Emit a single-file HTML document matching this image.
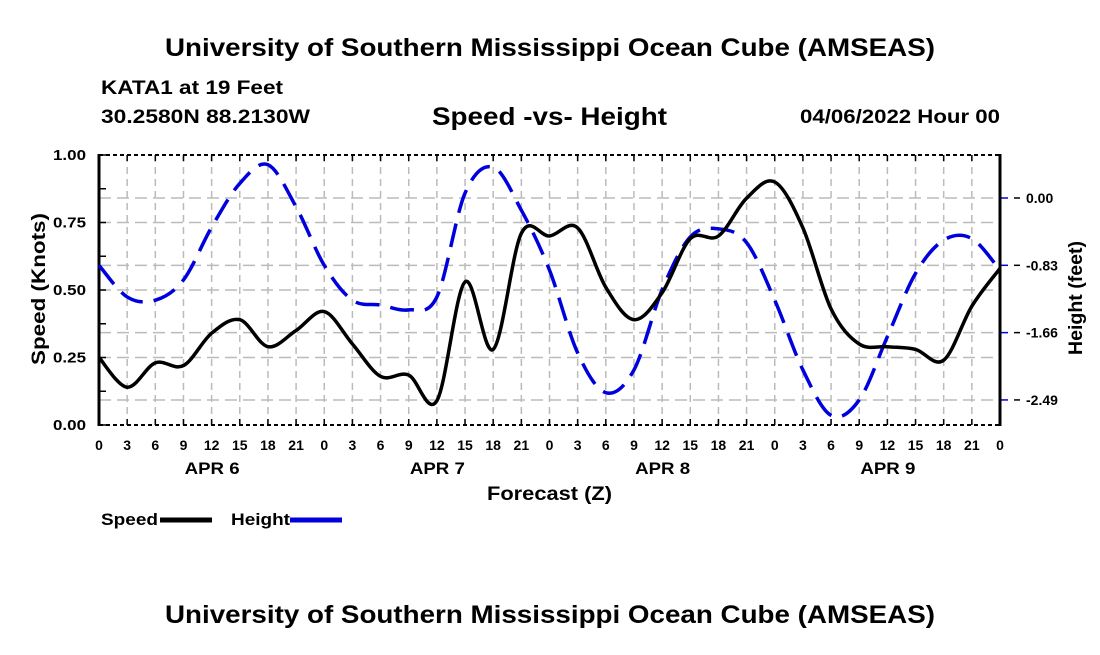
<!DOCTYPE html>
<html><head><meta charset="utf-8"><style>
body{margin:0;background:#fff;}
svg text{font-family:"Liberation Sans",sans-serif;font-weight:bold;fill:#000;}
</style></head><body>
<svg width="1100" height="650" viewBox="0 0 1100 650">
<text x="165" y="56" font-size="25" textLength="770" lengthAdjust="spacingAndGlyphs">University of Southern Mississippi Ocean Cube (AMSEAS)</text>
<text x="101" y="94" font-size="19" textLength="182" lengthAdjust="spacingAndGlyphs">KATA1 at 19 Feet</text>
<text x="101" y="123" font-size="19" textLength="209" lengthAdjust="spacingAndGlyphs">30.2580N  88.2130W</text>
<text x="432" y="125" font-size="25" textLength="235" lengthAdjust="spacingAndGlyphs">Speed -vs- Height</text>
<text x="800" y="123" font-size="19" textLength="200" lengthAdjust="spacingAndGlyphs">04/06/2022 Hour 00</text>
<g id="grid"></g>
<g id="axes"></g>
<g id="series"></g>
<text x="487" y="500" font-size="19" textLength="125" lengthAdjust="spacingAndGlyphs">Forecast (Z)</text>
<text transform="translate(45,365) rotate(-90)" font-size="19" textLength="152" lengthAdjust="spacingAndGlyphs">Speed (Knots)</text>
<text transform="translate(1082,355) rotate(-90)" font-size="19" textLength="114" lengthAdjust="spacingAndGlyphs">Height (feet)</text>
<g><text x="101" y="525" font-size="17" textLength="57" lengthAdjust="spacingAndGlyphs">Speed</text><line x1="160" y1="520" x2="212" y2="520" stroke="#000" stroke-width="5"/></g>
<g><text x="231" y="525" font-size="17" textLength="59" lengthAdjust="spacingAndGlyphs">Height</text><line x1="290" y1="520" x2="342" y2="520" stroke="#0000dd" stroke-width="5"/></g>
<text x="165" y="623" font-size="25" textLength="770" lengthAdjust="spacingAndGlyphs">University of Southern Mississippi Ocean Cube (AMSEAS)</text>
</svg>
<script>
const hours=[0,3,6,9,12,15,18,21,24,27,30,33,36,39,42,45,48,51,54,57,60,63,66,69,72,75,78,81,84,87,90,93,96];
const speed=[0.25,0.14,0.23,0.22,0.34,0.39,0.29,0.35,0.42,0.30,0.18,0.185,0.09,0.53,0.28,0.71,0.70,0.73,0.51,0.39,0.49,0.69,0.70,0.84,0.90,0.73,0.43,0.30,0.29,0.28,0.24,0.44,0.58];
const height=[-0.83,-1.22,-1.26,-1.01,-0.36,0.18,0.41,-0.11,-0.83,-1.26,-1.32,-1.38,-1.22,0.06,0.38,-0.15,-0.89,-1.91,-2.40,-2.12,-1.13,-0.48,-0.38,-0.55,-1.26,-2.12,-2.68,-2.49,-1.71,-0.93,-0.52,-0.50,-0.89];
const speedTicks=[0,0.25,0.5,0.75,1.0];
const heightTicks=[0,-0.83,-1.66,-2.49];
const hourLabels=["0","3","6","9","12","15","18","21"];
const dayLabels=["APR 6","APR 7","APR 8","APR 9"];

const NS="http://www.w3.org/2000/svg";
const X0=99,X1=1000,Y0=425,Y1=155;
const xs=h=>X0+(X1-X0)*h/96;
const ys=v=>Y0-(Y0-Y1)*v;
const yh=v=>198-81.1*v;
function mk(tag,attrs,parent){const e=document.createElementNS(NS,tag);for(const k in attrs)e.setAttribute(k,attrs[k]);parent.appendChild(e);return e;}
const grid=document.getElementById('grid'),axes=document.getElementById('axes'),series=document.getElementById('series');
for(let i=0;i<=32;i++){
  const x=xs(i*3);
  if(i>0&&i<32){const l=mk('line',{x1:x,y1:Y1,x2:x,y2:Y0,stroke:'#bbb','stroke-width':1.5,'stroke-dasharray':'7,5'},grid);
  
  }
  mk('line',{x1:x,y1:Y0,x2:x,y2:Y0-6,stroke:'#000','stroke-width':1.5},axes);
  mk('line',{x1:x,y1:Y1,x2:x,y2:Y1+6,stroke:'#000','stroke-width':1.5},axes);
  const t=mk('text',{x:x,y:450,'font-size':14,'text-anchor':'middle'},axes);
  t.textContent=hourLabels[i%8];
  
  
}
dayLabels.forEach((d,i)=>{const t=mk('text',{x:xs(i*24+12)-27,y:474,'font-size':17,textLength:55,lengthAdjust:'spacingAndGlyphs'},axes);t.textContent=d;

});
speedTicks.forEach(v=>{const y=ys(v);
  if(v>0&&v<1){const l=mk('line',{x1:X0,y1:y,x2:X1,y2:y,stroke:'#bbb','stroke-width':1.5,'stroke-dasharray':'12,6'},grid);
  
  }
  const t=mk('text',{x:53,y:y+5,'font-size':15,textLength:33,lengthAdjust:'spacingAndGlyphs'},axes);t.textContent=v.toFixed(2);
  
  });
for(let v=0.125;v<1;v+=0.25)mk('line',{x1:X0,y1:ys(v),x2:X0+7,y2:ys(v),stroke:'#000','stroke-width':1.5},axes);
speedTicks.forEach(v=>mk('line',{x1:X0,y1:ys(v),x2:X0+7,y2:ys(v),stroke:'#000','stroke-width':1.5},axes));
heightTicks.forEach(v=>{const y=yh(v);
  const l=mk('line',{x1:X0,y1:y,x2:X1,y2:y,stroke:'#bbb','stroke-width':1.5,'stroke-dasharray':'12,6'},grid);
  
  
  mk('line',{x1:X1,y1:y,x2:X1+8,y2:y,stroke:'#0000dd','stroke-width':1.5},axes);
  mk('line',{x1:X1+14,y1:y,x2:X1+20,y2:y,stroke:'#000','stroke-width':1.5},axes);
  const t=mk('text',{x:1026,y:y+5,'font-size':14},axes);t.textContent=v.toFixed(2);
  
  });
mk('line',{x1:X0,y1:Y1,x2:X1,y2:Y1,stroke:'#000','stroke-width':2,'stroke-dasharray':'4,3'},axes);
mk('line',{x1:X0,y1:Y0,x2:X1,y2:Y0,stroke:'#000','stroke-width':2,'stroke-dasharray':'4,3'},axes);
mk('line',{x1:X0,y1:Y1-1,x2:X0,y2:Y0+1,stroke:'#000','stroke-width':3},axes);
mk('line',{x1:X1,y1:Y1-1,x2:X1,y2:Y0+1,stroke:'#000','stroke-width':3},axes);
function smooth(pts){let d='M'+pts[0][0]+','+pts[0][1];
  for(let i=0;i<pts.length-1;i++){const p0=pts[Math.max(0,i-1)],p1=pts[i],p2=pts[i+1],p3=pts[Math.min(pts.length-1,i+2)];
    d+=' C'+(p1[0]+(p2[0]-p0[0])/6)+','+(p1[1]+(p2[1]-p0[1])/6)+' '+(p2[0]-(p3[0]-p1[0])/6)+','+(p2[1]-(p3[1]-p1[1])/6)+' '+p2[0]+','+p2[1];}
  return d;}
const hp=mk('path',{d:smooth(hours.map((h,i)=>[xs(h),yh(height[i])])),fill:'none',stroke:'#0000dd','stroke-width':3.5,'stroke-dasharray':'24,11'},series);


const sp=mk('path',{d:smooth(hours.map((h,i)=>[xs(h),ys(speed[i])])),fill:'none',stroke:'#000','stroke-width':3.5},series);


</script>
</body></html>
